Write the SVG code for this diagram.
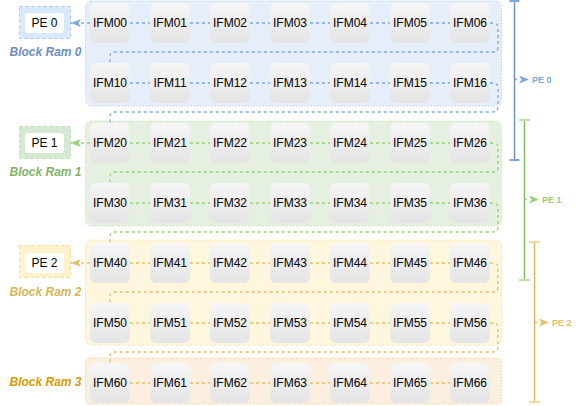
<svg xmlns="http://www.w3.org/2000/svg" width="582" height="406" viewBox="0 0 582 406">
<defs>
<linearGradient id="gray" x1="0" y1="0" x2="0" y2="1">
<stop offset="0" stop-color="#f6f6f6"/>
<stop offset="1" stop-color="#e4e4e4"/>
</linearGradient>
<marker id="mBlue" viewBox="0 0 10 8" refX="10" refY="4" markerWidth="10" markerHeight="8" markerUnits="userSpaceOnUse" orient="auto"><path d="M0,0 L10,4 L0,8 L2.5,4 Z" fill="#7ea6e0"/></marker>
<marker id="mGreen" viewBox="0 0 10 8" refX="10" refY="4" markerWidth="10" markerHeight="8" markerUnits="userSpaceOnUse" orient="auto"><path d="M0,0 L10,4 L0,8 L2.5,4 Z" fill="#97d077"/></marker>
<marker id="mYellow" viewBox="0 0 10 8" refX="10" refY="4" markerWidth="10" markerHeight="8" markerUnits="userSpaceOnUse" orient="auto"><path d="M0,0 L10,4 L0,8 L2.5,4 Z" fill="#e0c068"/></marker>
</defs>
<style>
text{font-family:"Liberation Sans",Arial,sans-serif;}
.ifm rect{fill:url(#gray);stroke:none;}
.ifm text,.pe text{font-size:12px;fill:#000;text-anchor:middle;dominant-baseline:central;}
.ram{stroke-width:1;stroke-dasharray:1 2;}
.lbl{font-size:12px;font-weight:bold;font-style:italic;text-anchor:middle;dominant-baseline:central;}
.c{fill:none;stroke-width:1.3;stroke-dasharray:3 3;}
.b{stroke:#7ea6e0;}
.g{stroke:#97d077;}
.y{stroke:#e0c068;}
.peo{stroke-width:1;stroke-dasharray:3 3;}
.pei{fill:#fff;stroke:none;}
.brk{fill:none;stroke-width:1.4;}
.cap{stroke-width:2;}
.plbl{font-size:9px;font-weight:bold;dominant-baseline:central;}
</style>

<g id="ram0" class="node"><rect class="ram" x="85.5" y="1" width="416" height="105" rx="6" fill="#e6eefa" stroke="#a9c4eb"/></g>
<g id="ram1" class="node"><rect class="ram" x="85.5" y="121" width="416" height="105" rx="6" fill="#e6f0e0" stroke="#b9e0a5"/></g>
<g id="ram2" class="node"><rect class="ram" x="85.5" y="240" width="416" height="105" rx="6" fill="#fff6de" stroke="#f0d68a"/></g>
<g id="ram3" class="node"><rect class="ram" x="85.5" y="358" width="416" height="46" rx="4" fill="#fdefe0" stroke="#f2c27a"/></g>

<g id="label-ram0"><text class="lbl" x="45.5" y="51.5" fill="#6c8ebf">Block Ram 0</text></g>
<g id="label-ram1"><text class="lbl" x="45.5" y="171.5" fill="#82b366">Block Ram 1</text></g>
<g id="label-ram2"><text class="lbl" x="45.5" y="291.5" fill="#d6b656">Block Ram 2</text></g>
<g id="label-ram3"><text class="lbl" x="45.5" y="382" fill="#d79b00">Block Ram 3</text></g>

<g id="pe0" class="pe"><rect class="peo" x="19.5" y="6.5" width="51" height="32" fill="#dae8fc" stroke="#a9c4eb"/><rect class="pei" x="25" y="13" width="39" height="20" rx="3"/><text x="44.5" y="23">PE 0</text></g>
<g id="pe1" class="pe"><rect class="peo" x="19.5" y="126.5" width="51" height="32" fill="#d5e8d4" stroke="#b9e0a5"/><rect class="pei" x="25" y="133" width="39" height="20" rx="3"/><text x="44.5" y="143">PE 1</text></g>
<g id="pe2" class="pe"><rect class="peo" x="19.5" y="245.5" width="51" height="32" fill="#fff2cc" stroke="#f5d98b"/><rect class="pei" x="25" y="253" width="39" height="20" rx="3"/><text x="44.5" y="263">PE 2</text></g>

<g id="ifm00" class="ifm"><rect x="90" y="3" width="40" height="40" rx="6"/><text x="110" y="23">IFM00</text></g>
<g id="ifm01" class="ifm"><rect x="150" y="3" width="40" height="40" rx="6"/><text x="170" y="23">IFM01</text></g>
<g id="ifm02" class="ifm"><rect x="210" y="3" width="40" height="40" rx="6"/><text x="230" y="23">IFM02</text></g>
<g id="ifm03" class="ifm"><rect x="270" y="3" width="40" height="40" rx="6"/><text x="290" y="23">IFM03</text></g>
<g id="ifm04" class="ifm"><rect x="330" y="3" width="40" height="40" rx="6"/><text x="350" y="23">IFM04</text></g>
<g id="ifm05" class="ifm"><rect x="390" y="3" width="40" height="40" rx="6"/><text x="410" y="23">IFM05</text></g>
<g id="ifm06" class="ifm"><rect x="450" y="3" width="40" height="40" rx="6"/><text x="470" y="23">IFM06</text></g>

<g id="ifm10" class="ifm"><rect x="90" y="63" width="40" height="40" rx="6"/><text x="110" y="83">IFM10</text></g>
<g id="ifm11" class="ifm"><rect x="150" y="63" width="40" height="40" rx="6"/><text x="170" y="83">IFM11</text></g>
<g id="ifm12" class="ifm"><rect x="210" y="63" width="40" height="40" rx="6"/><text x="230" y="83">IFM12</text></g>
<g id="ifm13" class="ifm"><rect x="270" y="63" width="40" height="40" rx="6"/><text x="290" y="83">IFM13</text></g>
<g id="ifm14" class="ifm"><rect x="330" y="63" width="40" height="40" rx="6"/><text x="350" y="83">IFM14</text></g>
<g id="ifm15" class="ifm"><rect x="390" y="63" width="40" height="40" rx="6"/><text x="410" y="83">IFM15</text></g>
<g id="ifm16" class="ifm"><rect x="450" y="63" width="40" height="40" rx="6"/><text x="470" y="83">IFM16</text></g>

<g id="ifm20" class="ifm"><rect x="90" y="123" width="40" height="40" rx="6"/><text x="110" y="143">IFM20</text></g>
<g id="ifm21" class="ifm"><rect x="150" y="123" width="40" height="40" rx="6"/><text x="170" y="143">IFM21</text></g>
<g id="ifm22" class="ifm"><rect x="210" y="123" width="40" height="40" rx="6"/><text x="230" y="143">IFM22</text></g>
<g id="ifm23" class="ifm"><rect x="270" y="123" width="40" height="40" rx="6"/><text x="290" y="143">IFM23</text></g>
<g id="ifm24" class="ifm"><rect x="330" y="123" width="40" height="40" rx="6"/><text x="350" y="143">IFM24</text></g>
<g id="ifm25" class="ifm"><rect x="390" y="123" width="40" height="40" rx="6"/><text x="410" y="143">IFM25</text></g>
<g id="ifm26" class="ifm"><rect x="450" y="123" width="40" height="40" rx="6"/><text x="470" y="143">IFM26</text></g>

<g id="ifm30" class="ifm"><rect x="90" y="183" width="40" height="40" rx="6"/><text x="110" y="203">IFM30</text></g>
<g id="ifm31" class="ifm"><rect x="150" y="183" width="40" height="40" rx="6"/><text x="170" y="203">IFM31</text></g>
<g id="ifm32" class="ifm"><rect x="210" y="183" width="40" height="40" rx="6"/><text x="230" y="203">IFM32</text></g>
<g id="ifm33" class="ifm"><rect x="270" y="183" width="40" height="40" rx="6"/><text x="290" y="203">IFM33</text></g>
<g id="ifm34" class="ifm"><rect x="330" y="183" width="40" height="40" rx="6"/><text x="350" y="203">IFM34</text></g>
<g id="ifm35" class="ifm"><rect x="390" y="183" width="40" height="40" rx="6"/><text x="410" y="203">IFM35</text></g>
<g id="ifm36" class="ifm"><rect x="450" y="183" width="40" height="40" rx="6"/><text x="470" y="203">IFM36</text></g>

<g id="ifm40" class="ifm"><rect x="90" y="243" width="40" height="40" rx="6"/><text x="110" y="263">IFM40</text></g>
<g id="ifm41" class="ifm"><rect x="150" y="243" width="40" height="40" rx="6"/><text x="170" y="263">IFM41</text></g>
<g id="ifm42" class="ifm"><rect x="210" y="243" width="40" height="40" rx="6"/><text x="230" y="263">IFM42</text></g>
<g id="ifm43" class="ifm"><rect x="270" y="243" width="40" height="40" rx="6"/><text x="290" y="263">IFM43</text></g>
<g id="ifm44" class="ifm"><rect x="330" y="243" width="40" height="40" rx="6"/><text x="350" y="263">IFM44</text></g>
<g id="ifm45" class="ifm"><rect x="390" y="243" width="40" height="40" rx="6"/><text x="410" y="263">IFM45</text></g>
<g id="ifm46" class="ifm"><rect x="450" y="243" width="40" height="40" rx="6"/><text x="470" y="263">IFM46</text></g>

<g id="ifm50" class="ifm"><rect x="90" y="303" width="40" height="40" rx="6"/><text x="110" y="323">IFM50</text></g>
<g id="ifm51" class="ifm"><rect x="150" y="303" width="40" height="40" rx="6"/><text x="170" y="323">IFM51</text></g>
<g id="ifm52" class="ifm"><rect x="210" y="303" width="40" height="40" rx="6"/><text x="230" y="323">IFM52</text></g>
<g id="ifm53" class="ifm"><rect x="270" y="303" width="40" height="40" rx="6"/><text x="290" y="323">IFM53</text></g>
<g id="ifm54" class="ifm"><rect x="330" y="303" width="40" height="40" rx="6"/><text x="350" y="323">IFM54</text></g>
<g id="ifm55" class="ifm"><rect x="390" y="303" width="40" height="40" rx="6"/><text x="410" y="323">IFM55</text></g>
<g id="ifm56" class="ifm"><rect x="450" y="303" width="40" height="40" rx="6"/><text x="470" y="323">IFM56</text></g>

<g id="ifm60" class="ifm"><rect x="90" y="363" width="40" height="40" rx="6"/><text x="110" y="383">IFM60</text></g>
<g id="ifm61" class="ifm"><rect x="150" y="363" width="40" height="40" rx="6"/><text x="170" y="383">IFM61</text></g>
<g id="ifm62" class="ifm"><rect x="210" y="363" width="40" height="40" rx="6"/><text x="230" y="383">IFM62</text></g>
<g id="ifm63" class="ifm"><rect x="270" y="363" width="40" height="40" rx="6"/><text x="290" y="383">IFM63</text></g>
<g id="ifm64" class="ifm"><rect x="330" y="363" width="40" height="40" rx="6"/><text x="350" y="383">IFM64</text></g>
<g id="ifm65" class="ifm"><rect x="390" y="363" width="40" height="40" rx="6"/><text x="410" y="383">IFM65</text></g>
<g id="ifm66" class="ifm"><rect x="450" y="363" width="40" height="40" rx="6"/><text x="470" y="383">IFM66</text></g>

<g id="bracket-pe0">
<path class="brk" d="M514.5,1 V160" stroke="#6c8ebf"/>
<path class="cap" d="M509.5,1 H519.5 M509.5,160 H519.5" stroke="#7ea6e0"/>
<text class="plbl" x="532" y="79.5" fill="#7ea6e0">PE 0</text>
</g>
<g id="bracket-pe1">
<path class="brk" d="M524.5,120 V280" stroke="#82b366"/>
<path class="cap" d="M519,120 H530 M519,280 H530" stroke="#b9e0a5"/>
<text class="plbl" x="542" y="199.5" fill="#97d077">PE 1</text>
</g>
<g id="bracket-pe2">
<path class="brk" d="M534.5,242 V402" stroke="#d6b656"/>
<path class="cap" d="M529,242 H540 M529,402 H540" stroke="#f0d9a0"/>
<text class="plbl" x="552" y="322.5" fill="#e0c068">PE 2</text>
</g>

<g id="connectors">
<!-- to PEs -->
<path class="c b" d="M90,23 H71" marker-end="url(#mBlue)"/>
<path class="c g" d="M90,143 H71" marker-end="url(#mGreen)"/>
<path class="c y" d="M90,263 H71" marker-end="url(#mYellow)"/>
<!-- bracket labels -->
<path class="b" d="M515,79.5 H529" fill="none" stroke-width="1.3" stroke-dasharray="2 30" marker-end="url(#mBlue)"/>
<path class="g" d="M525,199.5 H539" fill="none" stroke-width="1.3" stroke-dasharray="2 30" marker-end="url(#mGreen)"/>
<path class="y" d="M535,322.5 H549" fill="none" stroke-width="1.3" stroke-dasharray="2 30" marker-end="url(#mYellow)"/>
<!-- row 0 -->
<path class="c b" d="M130,23 H150"/><path class="c b" d="M190,23 H210"/><path class="c b" d="M250,23 H270"/><path class="c b" d="M310,23 H330"/><path class="c b" d="M370,23 H390"/><path class="c b" d="M430,23 H450"/>
<path class="c b" d="M490,23 H493 Q498,23 498,28 V47 Q498,52 493,52 H115 Q110,52 110,57 V63"/>
<!-- row 1 -->
<path class="c b" d="M130,83 H150"/><path class="c b" d="M190,83 H210"/><path class="c b" d="M250,83 H270"/><path class="c b" d="M310,83 H330"/><path class="c b" d="M370,83 H390"/><path class="c b" d="M430,83 H450"/>
<path class="c b" d="M490,83 H493 Q498,83 498,88 V107 Q498,112 493,112 H115 Q110,112 110,117 V123"/>
<!-- row 2 -->
<path class="c g" d="M130,143 H150"/><path class="c g" d="M190,143 H210"/><path class="c g" d="M250,143 H270"/><path class="c g" d="M310,143 H330"/><path class="c g" d="M370,143 H390"/><path class="c g" d="M430,143 H450"/>
<path class="c g" d="M490,143 H493 Q498,143 498,148 V167 Q498,172 493,172 H115 Q110,172 110,177 V183"/>
<!-- row 3 -->
<path class="c g" d="M130,203 H150"/><path class="c g" d="M190,203 H210"/><path class="c g" d="M250,203 H270"/><path class="c g" d="M310,203 H330"/><path class="c g" d="M370,203 H390"/><path class="c g" d="M430,203 H450"/>
<path class="c g" d="M490,203 H493 Q498,203 498,208 V227 Q498,232 493,232 H115 Q110,232 110,237 V243"/>
<!-- row 4 -->
<path class="c y" d="M130,263 H150"/><path class="c y" d="M190,263 H210"/><path class="c y" d="M250,263 H270"/><path class="c y" d="M310,263 H330"/><path class="c y" d="M370,263 H390"/><path class="c y" d="M430,263 H450"/>
<path class="c y" d="M490,263 H493 Q498,263 498,268 V287 Q498,292 493,292 H115 Q110,292 110,297 V303"/>
<!-- row 5 -->
<path class="c y" d="M130,323 H150"/><path class="c y" d="M190,323 H210"/><path class="c y" d="M250,323 H270"/><path class="c y" d="M310,323 H330"/><path class="c y" d="M370,323 H390"/><path class="c y" d="M430,323 H450"/>
<path class="c y" d="M490,323 H493 Q498,323 498,328 V347 Q498,352 493,352 H115 Q110,352 110,357 V363"/>
<!-- row 6 -->
<path class="c y" d="M130,383 H150"/><path class="c y" d="M190,383 H210"/><path class="c y" d="M250,383 H270"/><path class="c y" d="M310,383 H330"/><path class="c y" d="M370,383 H390"/><path class="c y" d="M430,383 H450"/>
</g>
</svg>
